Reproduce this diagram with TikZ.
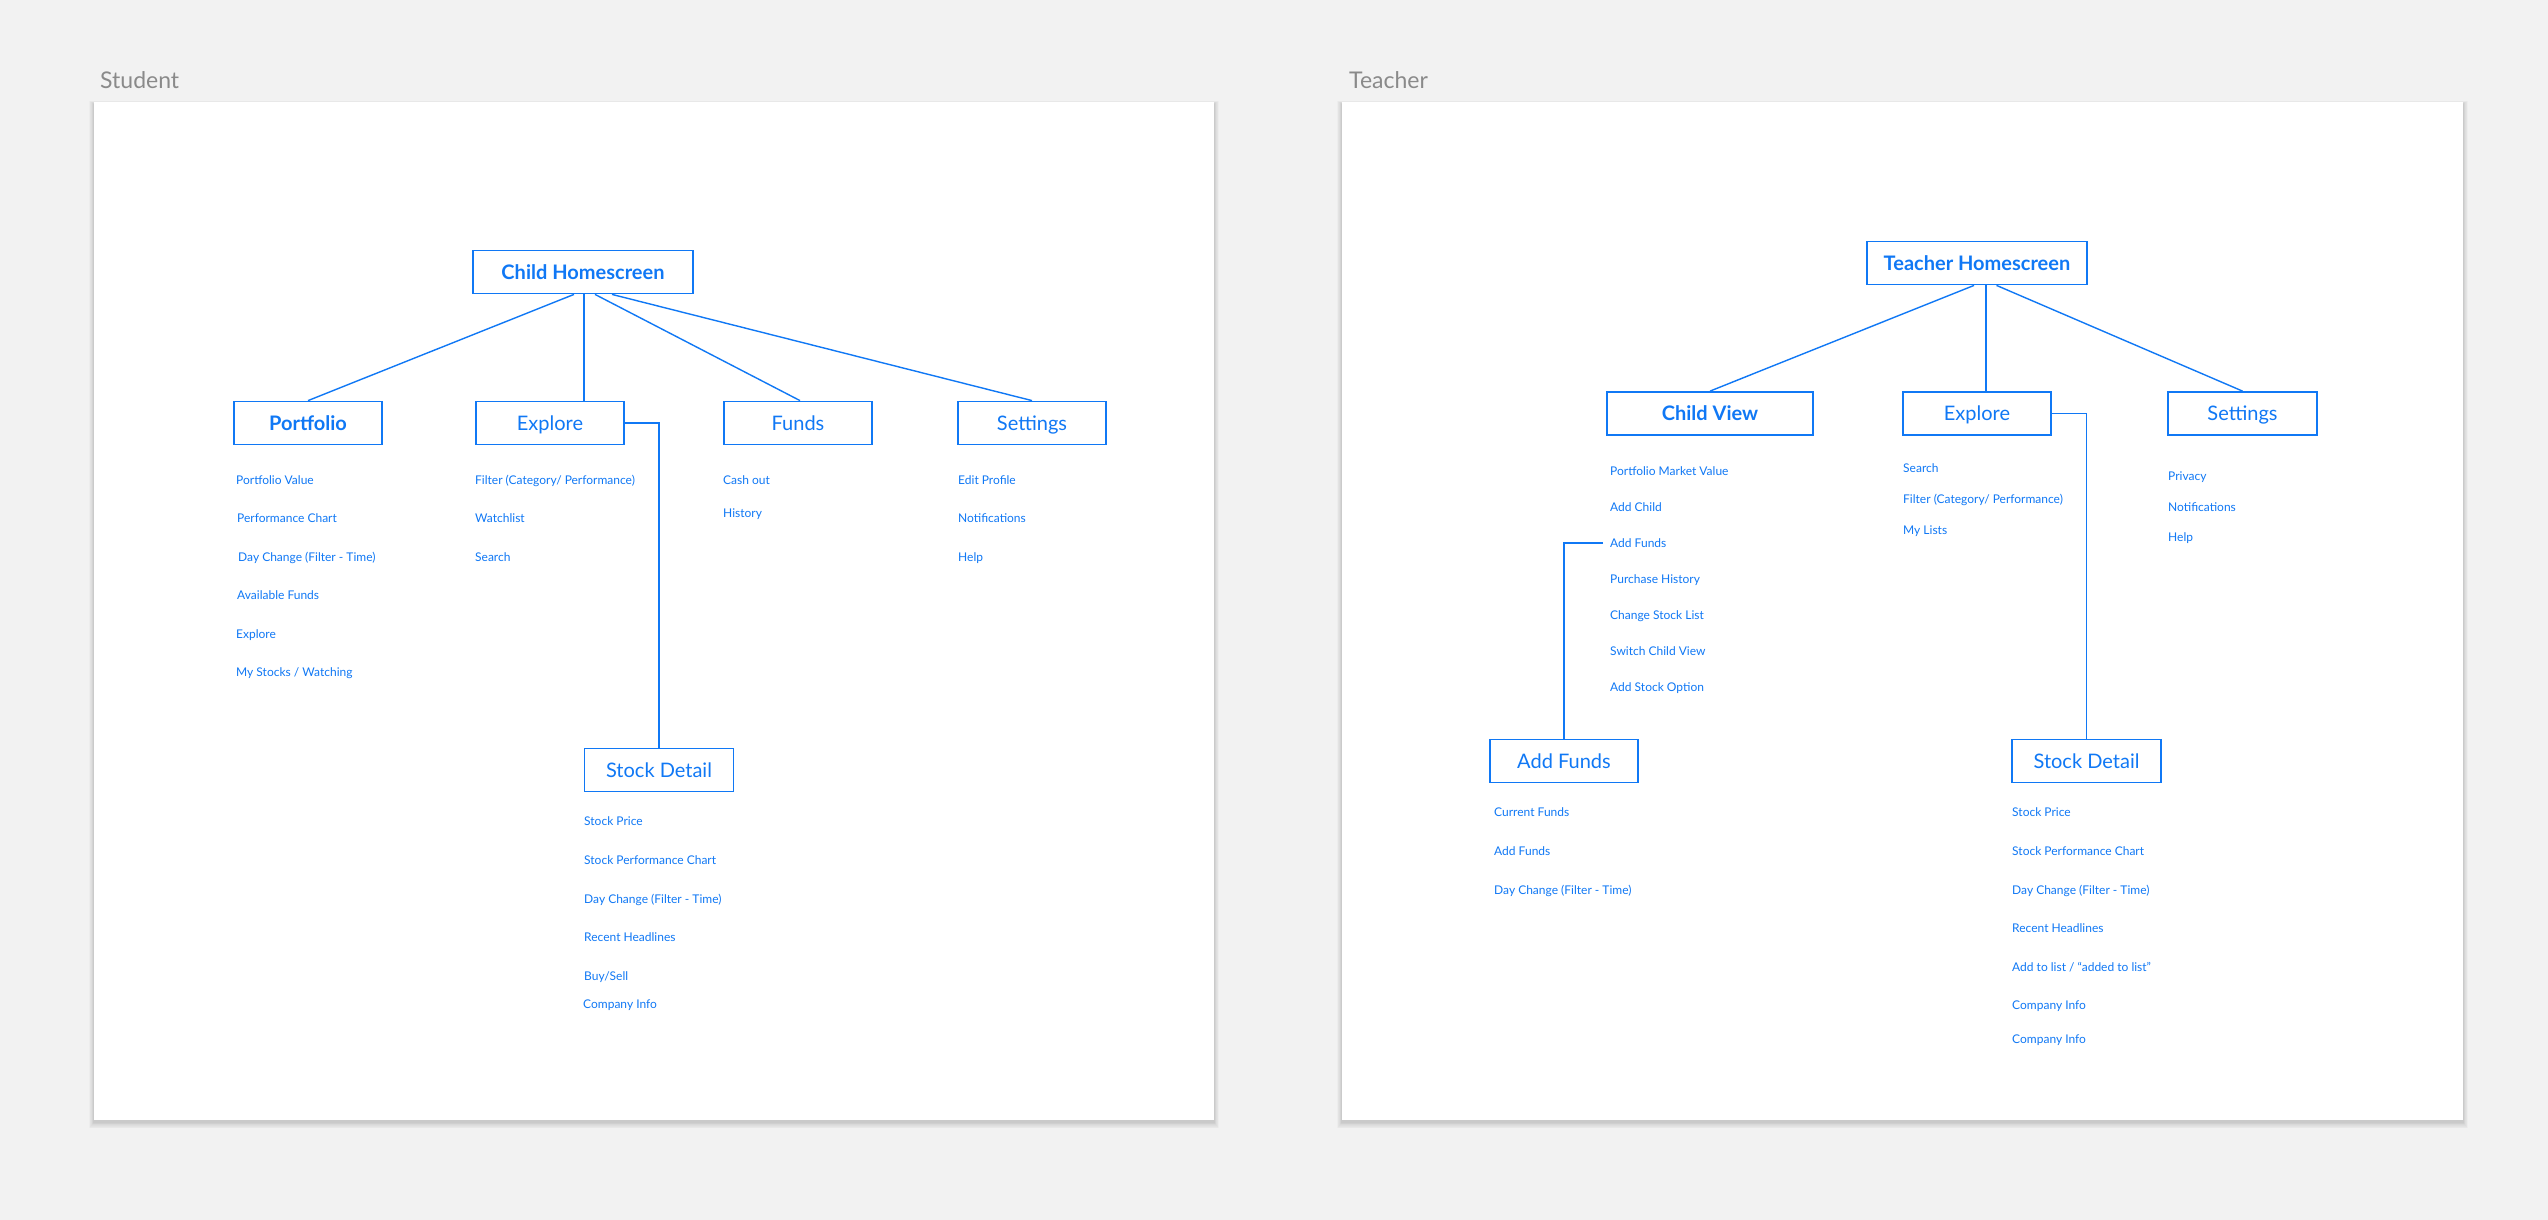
\documentclass[tikz,border=0pt]{standalone}
\usepackage{fontspec}
\setmainfont{Lato}
\definecolor{uiblue}{RGB}{16,120,245}
\definecolor{pagegray}{RGB}{242,242,242}
\definecolor{labelgray}{RGB}{138,138,138}
\begin{document}
\begin{tikzpicture}[x=1pt, y=-1pt,
	box/.style={draw=uiblue, line width=1.8pt, text=uiblue, inner sep=0pt, minimum height=43pt, text height=14.3pt, text depth=0pt, font=\fontsize{20}{24}\selectfont},
	bbox/.style={box, font=\fontsize{20}{24}\selectfont\bfseries},
	item/.style={anchor=west, inner sep=0pt, text=uiblue, text height=8.6pt, text depth=0pt, font=\fontsize{12}{14}\selectfont},
	link/.style={draw=uiblue, line width=1.4pt},
	title/.style={anchor=west, inner sep=0pt, text=labelgray, text height=16.5pt, text depth=0pt, font=\fontsize{23}{27}\selectfont}]

	\fill[pagegray] (0,0) rectangle (2548,1220);

	% panels with soft shadow
	\foreach \s in {1,...,8} {
		\fill[black, opacity=0.018] (94-0.6*\s,104-0.4*\s) rectangle (1214+0.6*\s,1122+0.8*\s);
		\fill[black, opacity=0.018] (1342-0.6*\s,104-0.4*\s) rectangle (2463+0.6*\s,1122+0.8*\s);
	}
	\fill[white] (94,102) rectangle (1214,1120);
	\fill[white] (1342,102) rectangle (2463,1120);

	\node[title] (tstudent) at (100,80) {Student};
	\node[title] (tteacher) at (1349,80) {Teacher};

	\begin{scope}
		\node[bbox, minimum width=220pt] (hs) at (583,272) {Child Homescreen};
		\node[bbox, minimum width=148pt] (pf) at (308,423) {Portfolio};
		\node[box, minimum width=148pt] (ex) at (550,423) {Explore};
		\node[box, minimum width=148pt] (fu) at (798,423) {Funds};
		\node[box, minimum width=148pt] (se) at (1032,423) {Settings};
		\node[box, minimum width=149pt] (sd) at (659,770) {Stock Detail};

		\draw[link] ([xshift=-9pt]hs.south) -- (pf.north);
		\draw[link] ([xshift=1pt]hs.south) -- ([xshift=34pt]ex.north);
		\draw[link] ([xshift=12pt]hs.south) -- ([xshift=2pt]fu.north);
		\draw[link] ([xshift=29pt]hs.south) -- (se.north);
		\draw[link] (ex.east) -| (sd.north);

		\node[item] (pf1) at (236,480) {Portfolio Value};
		\node[item] (pf2) at (237,518) {Performance Chart};
		\node[item] (pf3) at (238,557) {Day Change (Filter - Time)};
		\node[item] (pf4) at (237,595) {Available Funds};
		\node[item] (pf5) at (236,634) {Explore};
		\node[item] (pf6) at (236,672) {My Stocks / Watching};

		\node[item] (ex1) at (475,480) {Filter (Category/ Performance)};
		\node[item] (ex2) at (475,518) {Watchlist};
		\node[item] (ex3) at (475,557) {Search};

		\node[item] (fu1) at (723,480) {Cash out};
		\node[item] (fu2) at (723,513) {History};

		\node[item] (se1) at (958,480) {Edit Profile};
		\node[item] (se2) at (958,518) {Notifications};
		\node[item] (se3) at (958,557) {Help};

		\node[item] (sd1) at (584,821) {Stock Price};
		\node[item] (sd2) at (584,860) {Stock Performance Chart};
		\node[item] (sd3) at (584,899) {Day Change (Filter - Time)};
		\node[item] (sd4) at (584,937) {Recent Headlines};
		\node[item] (sd5) at (584,976) {Buy/Sell};
		\node[item] (sd6) at (583,1004) {Company Info};
	\end{scope}

	\begin{scope}
		\node[bbox, minimum width=220pt] (ths) at (1977,263) {Teacher Homescreen};
		\node[bbox, minimum width=206pt] (cv) at (1710,413.5) {Child View};
		\node[box, minimum width=148pt] (tex) at (1977,413.5) {Explore};
		\node[box, minimum width=149pt] (tse) at (2242.5,413.5) {Settings};
		\node[box, minimum width=148pt] (af) at (1564,761) {Add Funds};
		\node[box, minimum width=149pt] (tsd) at (2086.5,761) {Stock Detail};

		\node[item] (cv1) at (1610,471) {Portfolio Market Value};
		\node[item] (cv2) at (1610,507) {Add Child};
		\node[item] (cv3) at (1610,543) {Add Funds};
		\node[item] (cv4) at (1610,579) {Purchase History};
		\node[item] (cv5) at (1610,615) {Change Stock List};
		\node[item] (cv6) at (1610,651) {Switch Child View};
		\node[item] (cv7) at (1610,687) {Add Stock Option};

		\draw[link] ([xshift=-3pt]ths.south) -- (cv.north);
		\draw[link] ([xshift=9pt]ths.south) -- ([xshift=9pt]tex.north);
		\draw[link] ([xshift=19.5pt]ths.south) -- (tse.north);
		\draw[link] (tex.east) -| (tsd.north);
		\draw[link] ([xshift=-7pt]cv3.west) -| (af.north);

		\node[item] (tex1) at (1903,468) {Search};
		\node[item] (tex2) at (1903,499) {Filter (Category/ Performance)};
		\node[item] (tex3) at (1903,530) {My Lists};

		\node[item] (tse1) at (2168,476) {Privacy};
		\node[item] (tse2) at (2168,507) {Notifications};
		\node[item] (tse3) at (2168,537) {Help};

		\node[item] (af1) at (1494,812) {Current Funds};
		\node[item] (af2) at (1494,851) {Add Funds};
		\node[item] (af3) at (1494,890) {Day Change (Filter - Time)};

		\node[item] (tsd1) at (2012,812) {Stock Price};
		\node[item] (tsd2) at (2012,851) {Stock Performance Chart};
		\node[item] (tsd3) at (2012,890) {Day Change (Filter - Time)};
		\node[item] (tsd4) at (2012,928) {Recent Headlines};
		\node[item] (tsd5) at (2012,967) {Add to list / “added to list”};
		\node[item] (tsd6) at (2012,1005) {Company Info};
		\node[item] (tsd7) at (2012,1039) {Company Info};
	\end{scope}
\end{tikzpicture}
\end{document}
